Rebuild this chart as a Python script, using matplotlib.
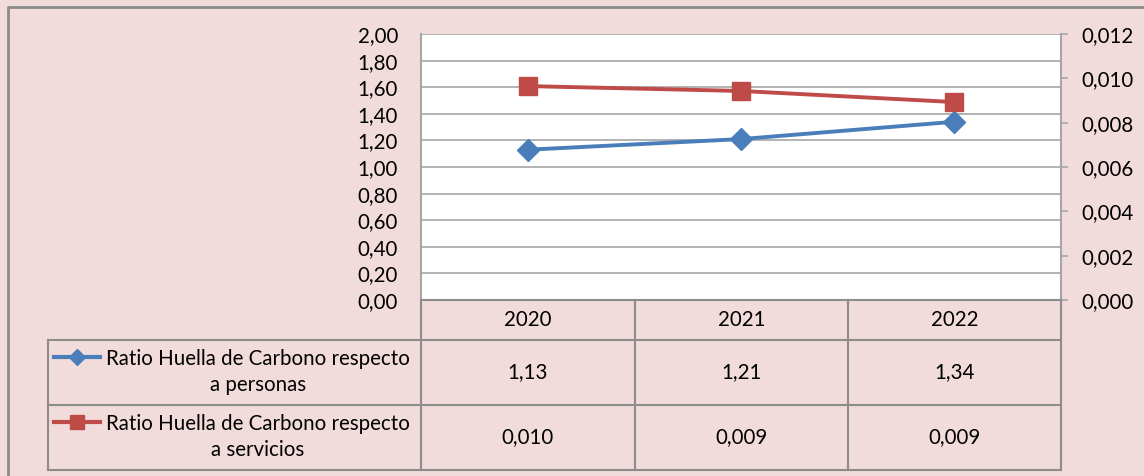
import matplotlib.pyplot as plt
from matplotlib.ticker import FuncFormatter

plt.rcParams['font.family'] = ['Lato', 'DejaVu Sans']

years = ['2020', '2021', '2022']
personas = [1.13, 1.21, 1.34]
servicios = [0.00965, 0.00943, 0.00893]
labels = ['Ratio Huella de Carbono respecto\na personas',
          'Ratio Huella de Carbono respecto\na servicios']

bg = '#f2dcdb'
gridc = '#a6a6a6'
blue = '#4a7ebb'
red = '#be4b48'
W, H = 1144, 476
fs = 14.8

fig = plt.figure(figsize=(W / 100, H / 100), dpi=100, facecolor=bg)

# plot area in pixel box
x0, x1, y0, y1 = 421, 1061, 34, 300
ax = fig.add_axes([x0 / W, 1 - y1 / H, (x1 - x0) / W, (y1 - y0) / H])
ax.set_facecolor('white')
ax2 = ax.twinx()

xs = range(len(years))
ax.plot(xs, personas, color=blue, lw=2.8, marker='D', ms=11, zorder=3)
ax2.plot(xs, servicios, color=red, lw=2.8, marker='s', ms=12.5, zorder=3)

ax.set_xlim(-0.5, len(years) - 0.5)
ax.set_ylim(0, 2.0)
ax.set_yticks([i * 0.2 for i in range(11)])
ax.yaxis.set_major_formatter(FuncFormatter(lambda v, p: f'{v:.2f}'.replace('.', ',')))
ax2.set_ylim(0, 0.012)
ax2.set_yticks([i * 0.002 for i in range(7)])
ax2.yaxis.set_major_formatter(FuncFormatter(lambda v, p: f'{v:.3f}'.replace('.', ',')))
ax.grid(axis='y', color=gridc, lw=1.2)
ax.set_axisbelow(True)
ax.set_xticks([])
ax.tick_params(axis='y', length=0, pad=16.5, labelsize=fs)
ax2.tick_params(axis='y', length=5, width=1.2, color=gridc, pad=10, labelsize=fs)
for a in (ax, ax2):
    for s in a.spines.values():
        s.set_visible(False)
ax.spines['left'].set_visible(True)
ax.spines['left'].set_color(gridc)
ax.spines['left'].set_linewidth(1.5)
ax2.spines['right'].set_visible(True)
ax2.spines['right'].set_color(gridc)
ax2.spines['right'].set_linewidth(1.5)

# overlay for data table and frame
ov = fig.add_axes([0, 0, 1, 1], facecolor='none')
ov.set_xlim(0, W)
ov.set_ylim(H, 0)
ov.axis('off')
lc = '#8c8c8c'
# outer frame
ov.plot([8, 8, W], [H, 7, 7], color=lc, lw=2)
# table grid
cols = [x0, 635, 848, x1]
for cx in cols:
    ov.plot([cx, cx], [y1, 470], color=lc, lw=1.5)
ov.plot([48, 48], [340, 470], color=lc, lw=1.5)
for ry in [y1, 340, 405, 470]:
    ov.plot([48 if ry > y1 else x0, x1], [ry, ry], color=lc, lw=1.5)

centers = [(cols[i] + cols[i + 1]) / 2 for i in range(3)]
for c, yr in zip(centers, years):
    ov.text(c, 320, yr, ha='center', va='center', fontsize=fs)
for c, v in zip(centers, personas):
    ov.text(c, 372, f'{v:.2f}'.replace('.', ','), ha='center', va='center', fontsize=fs)
for c, v in zip(centers, servicios):
    ov.text(c, 437, f'{v:.3f}'.replace('.', ','), ha='center', va='center', fontsize=fs)

# legend keys and labels
for (ry, lab, col, mk, ms) in [(372, labels[0], blue, 'D', 8), (437, labels[1], red, 's', 10)]:
    ky = ry - 15
    ov.plot([54, 100], [ky, ky], color=col, lw=3)
    ov.plot([77], [ky], marker=mk, color=col, ms=ms)
    ov.text(258, ry, lab, ha='center', va='center', fontsize=fs, linespacing=1.4)

fig.savefig('out.png', dpi=100, facecolor=bg)
